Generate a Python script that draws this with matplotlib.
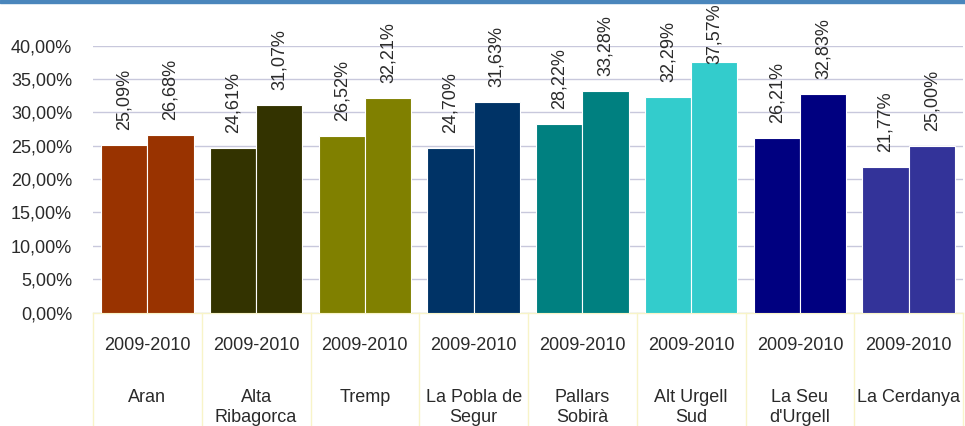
import matplotlib
matplotlib.use('Agg')
import matplotlib.pyplot as plt
import matplotlib.transforms as mtransforms
from matplotlib.lines import Line2D
from matplotlib.patches import Rectangle
## grouped bars per comarca, two values each, Excel-like look

regions = ['Aran', 'Alta\nRibagorca', 'Tremp', 'La Pobla de\nSegur', 'Pallars\nSobirà',
           'Alt Urgell\nSud', 'La Seu\nd\'Urgell', 'La Cerdanya']
period = '2009-2010'
first = [25.09, 24.61, 26.52, 24.70, 28.22, 32.29, 26.21, 21.77]
second = [26.68, 31.07, 32.21, 31.63, 33.28, 37.57, 32.83, 25.00]
colors = ['#993300', '#333300', '#808000', '#003366', '#008080', '#33cccc', '#000080', '#333399']
yticks = [0, 5, 10, 15, 20, 25, 30, 35, 40]

plt.rcParams['font.family'] = ['Liberation Sans', 'DejaVu Sans']
fs = 13
txtcol = '#2a2a2a'

fig = plt.figure(figsize=(9.65, 4.26), dpi=100)
ax = fig.add_axes([93/965, (426-312.5)/426, 870/965, 266.8/426])

w = 0.425
for i in range(len(regions)):
	for j, v in enumerate([first[i], second[i]]):
		x = i - w/2 if j == 0 else i + w/2
		ax.bar(x, v, width=w, color=colors[i], edgecolor='white', linewidth=0.8, zorder=3)
		lab = ('%.2f%%' % v).replace('.', ',')
		if v + 2.25 + 9.5 > 46.4:  # label would leave the picture, keep it at the top
			ax.text(x, 46.4, lab, rotation=90, ha='center', va='top', fontsize=fs, color=txtcol, zorder=4)
		else:
			ax.text(x, v + 2.25, lab, rotation=90, ha='center', va='bottom', fontsize=fs, color=txtcol, zorder=4)

ax.set_xlim(-0.5, len(regions) - 0.5)
ax.set_ylim(0, 40)
ax.set_yticks(yticks)
ax.set_yticklabels([('%.2f%%' % t).replace('.', ',') for t in yticks], fontsize=fs, color=txtcol)
ax.tick_params(axis='y', length=0, pad=15)
ax.set_xticks([])
ax.grid(axis='y', color='#c8c8dc', linewidth=1, zorder=0)
for s in ['top', 'right', 'left']:
	ax.spines[s].set_visible(False)
ax.spines['bottom'].set_color('#f8f4c8')
ax.spines['bottom'].set_linewidth(1)

# two-level category labels under the axis
trans = mtransforms.blended_transform_factory(ax.transData, ax.transAxes)
for i, r in enumerate(regions):
	ax.text(i, -0.124, period, ha='center', va='center', fontsize=fs, color=txtcol, transform=trans)
	ax.text(i, -0.285, r, ha='center', va='top', fontsize=fs, color=txtcol, linespacing=1.3, transform=trans)
for k in range(len(regions) + 1):
	ax.add_line(Line2D([k - 0.5, k - 0.5], [0, -0.45], color='#f8f4c8', linewidth=1, transform=trans, clip_on=False))

# blue strip at the top
fig.add_artist(Rectangle((0, 1 - 3/426), 1, 3/426, transform=fig.transFigure, color='#4a86bc'))

plt.savefig('out.png', dpi=100)
